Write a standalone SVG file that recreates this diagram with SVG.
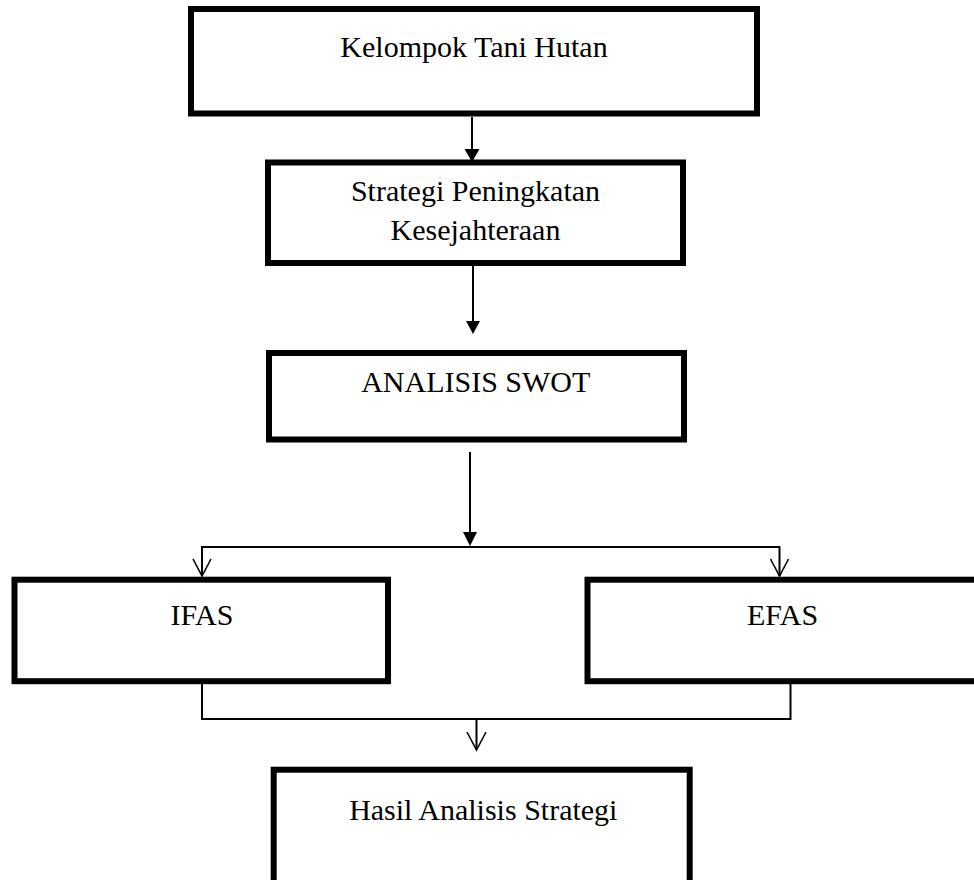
<svg xmlns="http://www.w3.org/2000/svg" width="974" height="880" viewBox="0 0 974 880">
<style>
.box{fill:#fff;stroke:#000;stroke-width:6}
.t{font-family:"Liberation Serif","Times New Roman",serif;font-size:30px;fill:#000;text-anchor:middle}
.c{fill:none;stroke:#000;stroke-width:2}
.h{fill:#000;stroke:none}
.v{fill:none;stroke:#000;stroke-width:1.6}
</style>
<rect width="974" height="880" fill="#fff"/>
<g id="connectors">
<line class="c" x1="472" y1="117" x2="472" y2="150"/>
<polygon class="h" points="464.5,149 479.5,149 472,162"/>
<line class="c" x1="473" y1="266" x2="473" y2="322"/>
<polygon class="h" points="466,321 480,321 473,334"/>
<line class="c" x1="470" y1="452" x2="470" y2="533"/>
<polygon class="h" points="463,532 477,532 470,546"/>
<polyline class="c" points="202,576 202,547 779.5,547 779.5,576"/>
<polyline class="v" points="193,559 202,576 211,559"/>
<polyline class="v" points="770.5,559 779.5,576 788.5,559"/>
<polyline class="c" points="202,684 202,719 790.5,719 790.5,684"/>
<line class="c" x1="476.5" y1="719" x2="476.5" y2="749"/>
<polyline class="v" points="467,732 476.5,750 486,732"/>
</g>
<g id="node-kelompok">
<rect class="box" x="191" y="9" width="566" height="104.5"/>
<text class="t" x="474" y="57">Kelompok Tani Hutan</text>
</g>
<g id="node-strategi">
<rect class="box" x="268" y="162.5" width="415" height="100.5"/>
<text class="t" x="475.5" y="200.5">Strategi Peningkatan</text>
<text class="t" x="475.5" y="240">Kesejahteraan</text>
</g>
<g id="node-swot">
<rect class="box" x="269" y="353" width="415" height="86.5"/>
<text class="t" x="475.8" y="391.5">ANALISIS SWOT</text>
</g>
<g id="node-ifas">
<rect class="box" x="14.5" y="579.7" width="373.5" height="101.5"/>
<text class="t" x="202" y="625">IFAS</text>
</g>
<g id="node-efas">
<rect class="box" x="587.5" y="579.7" width="400" height="101.5"/>
<text class="t" x="782.6" y="625">EFAS</text>
</g>
<g id="node-hasil">
<rect class="box" x="273.7" y="769.7" width="416" height="130"/>
<text class="t" x="483.3" y="820">Hasil Analisis Strategi</text>
</g>
</svg>
